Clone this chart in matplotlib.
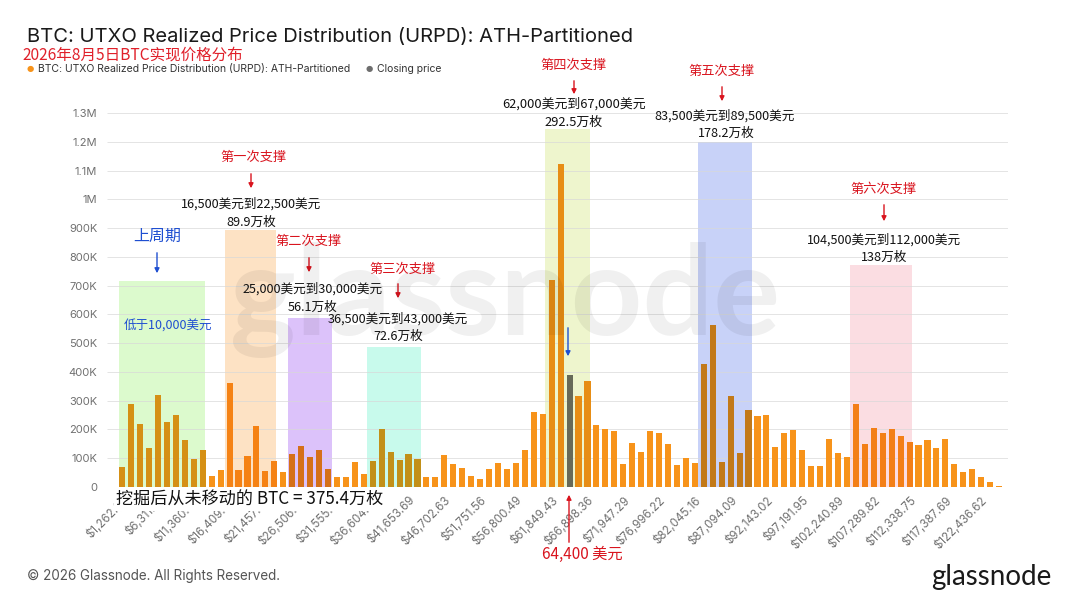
import matplotlib.pyplot as plt
from matplotlib.colors import to_rgb
import numpy as np

plt.rcParams['font.family'] = ['Inter', 'Noto Sans CJK SC', 'DejaVu Sans']
CJK = ['Noto Sans CJK SC', 'DejaVu Sans']

# URPD: BTC supply per price bin (each bin ~1,262.23 USD wide), in BTC
supply = np.array([
    71, 289, 219, 135, 320, 226, 252, 164, 98, 128,
    38, 58, 363, 59, 108, 212, 56, 91, 53, 116,
    144, 103, 128, 63, 34, 36, 88, 46, 92, 201,
    121, 93, 114, 98, 36, 36, 111, 79, 66, 38,
    27, 64, 83, 64, 83, 130, 262, 254, 721, 1122,
    389, 318, 367, 217, 203, 196, 81, 152, 123, 196,
    188, 150, 77, 100, 85, 427, 562, 86, 315, 118,
    266, 247, 252, 140, 188, 197, 128, 73, 73, 167,
    118, 106, 288, 149, 206, 186, 200, 179, 157, 146,
    165, 135, 166, 80, 52, 62, 36, 17, 3,
]) * 1000
bins = np.arange(1, len(supply) + 1)
closing_bin = 51

tick_bins = list(range(1, 98, 4))
tick_labels = [
    '$1,262.23', '$6,311.16', '$11,360.09', '$16,409.03', '$21,457.96',
    '$26,506.89', '$31,555.82', '$36,604.76', '$41,653.69', '$46,702.63',
    '$51,751.56', '$56,800.49', '$61,849.43', '$66,898.36', '$71,947.29',
    '$76,996.22', '$82,045.16', '$87,094.09', '$92,143.02', '$97,191.95',
    '$102,240.89', '$107,289.82', '$112,338.75', '$117,387.69', '$122,436.62',
]
y_ticks = [0, 1e5, 2e5, 3e5, 4e5, 5e5, 6e5, 7e5, 8e5, 9e5, 1e6, 1.1e6, 1.2e6, 1.3e6]
y_labels = ['0', '100K', '200K', '300K', '400K', '500K', '600K', '700K',
            '800K', '900K', '1M', '1.1M', '1.2M', '1.3M']

# highlighted zones (bin range, box height, colour)
zone_lo = [0.6, 12.5, 19.5, 28.4, 48.3, 65.4, 82.3]
zone_hi = [10.3, 18.2, 24.4, 34.4, 53.3, 71.4, 89.3]
zone_top = [715e3, 892e3, 588e3, 485e3, 1244e3, 1199e3, 773e3]
zone_col = ['#dcfacd', '#fde2c4', '#dcc2fa', '#c8faec', '#eef5cd', '#c8d2f8', '#fbdde2']

ORANGE = '#f7931a'
GREY = '#6e6e6e'


def multiply(c1, c2):
    return tuple(a * b for a, b in zip(to_rgb(c1), to_rgb(c2)))


def px(x, y):
    return x / 1080, 1 - y / 608


fig = plt.figure(figsize=(10.8, 6.08), dpi=100)
ax = fig.add_axes([107 / 1080, 1 - 487 / 608, 901 / 1080, 374 / 608])

colors = []
for b in bins:
    c = GREY if b == closing_bin else ORANGE
    for lo, hi, zc in zip(zone_lo, zone_hi, zone_col):
        if lo < b < hi:
            c = multiply(c, zc)
    colors.append(c)

for lo, hi, top, zc in zip(zone_lo, zone_hi, zone_top, zone_col):
    ax.fill_between([lo, hi], 0, top, color=zc, lw=0, zorder=0.5)

ax.hlines(y_ticks, 0, 1, transform=ax.get_yaxis_transform(),
          color='#d8d8d8', lw=0.7, alpha=0.7, zorder=1)
ax.bar(bins, supply, width=0.68, color=colors, zorder=2)

ax.set_xlim(-0.7, 100)
ax.set_ylim(0, 1.3e6)
ax.set_yticks(y_ticks)
ax.set_yticklabels(y_labels, fontsize=8, color='#707070')
ax.set_xticks(tick_bins)
ax.set_xticklabels(tick_labels, rotation=45, ha='right', rotation_mode='anchor',
                   fontsize=8.3, color='#707070')
ax.tick_params(length=0, pad=7)
ax.tick_params(axis='x', pad=5)
for s in ax.spines.values():
    s.set_visible(False)

# watermark
fig.text(*px(505, 300), 'glassnode', fontsize=90, color='#000000', alpha=0.06,
         ha='center', va='center', fontweight='bold', family='Lato')

# title and legend
fig.text(*px(27, 37), 'BTC: UTXO Realized Price Distribution (URPD): ATH-Partitioned',
         fontsize=14.5, color='#1a1a1a', va='center')
fig.text(*px(22, 55), '2026年8月5日BTC实现价格分布', fontsize=11.2, color='#e0202a',
         va='center', family=CJK)
fig.text(*px(27, 69), '●', fontsize=6, color=ORANGE, va='center', family='DejaVu Sans')
fig.text(*px(38, 69), 'BTC: UTXO Realized Price Distribution (URPD): ATH-Partitioned',
         fontsize=7.5, color='#333333', va='center')
fig.text(*px(366, 69), '●', fontsize=6, color=GREY, va='center', family='DejaVu Sans')
fig.text(*px(377, 69), 'Closing price', fontsize=7.5, color='#333333', va='center')

fig.text(*px(27, 576), '© 2026 Glassnode. All Rights Reserved.', fontsize=9.7,
         color='#555555', va='center')
fig.text(*px(1051, 577), 'glassnode', fontsize=20, color='#1a1a1a', va='center',
         ha='right', family='Lato')

RED = '#d9141e'
BLUE = '#1f4fd1'


def arrow(x, y0, y1, color):
    ax.annotate('', xy=px(x, y1), xytext=px(x, y0), xycoords='figure fraction',
                textcoords='figure fraction',
                arrowprops=dict(arrowstyle='-|>', color=color, lw=1, mutation_scale=7))


def note(x, y, s, color='#111111', size=9.1):
    fig.text(*px(x, y), s, fontsize=size, color=color, ha='center', va='center',
             family=CJK)


note(157, 236, '上周期', BLUE, 11.5)
arrow(157, 250, 276, BLUE)
note(168, 326, '低于10,000美元', BLUE, 9)

note(254, 157, '第一次支撑', RED, 9.5)
arrow(251, 171, 191, RED)
note(251, 204, '16,500美元到22,500美元')
note(251, 222, '89.9万枚')

note(309, 241, '第二次支撑', RED, 9.5)
arrow(309, 255, 275, RED)
note(313, 289, '25,000美元到30,000美元')
note(313, 307, '56.1万枚')

note(403, 269, '第三次支撑', RED, 9.5)
arrow(398, 281, 301, RED)
note(398, 319, '36,500美元到43,000美元')
note(398, 336, '72.6万枚')

note(574, 65, '第四次支撑', RED, 9.5)
arrow(574, 78, 97, RED)
note(574, 104, '62,000美元到67,000美元', size=9.3)
note(574, 122, '292.5万枚', size=9.3)

note(722, 71, '第五次支撑', RED, 9.5)
arrow(722, 84, 104, RED)
note(725, 116, '83,500美元到89,500美元')
note(726, 133, '178.2万枚')

note(884, 189, '第六次支撑', RED, 9.5)
arrow(884, 202, 224, RED)
note(884, 240, '104,500美元到112,000美元')
note(884, 257, '138万枚')

arrow(568, 325, 359, BLUE)
arrow(569, 545, 492, RED)
note(582, 554, '64,400 美元', RED, 11)

fig.text(*px(116, 500), '挖掘后从未移动的 BTC = 375.4万枚', fontsize=12.3, color='#111111',
         va='center', family=CJK,
         bbox=dict(boxstyle='square,pad=0.1', fc='white', ec='none'))

fig.savefig('out.png', dpi=100, facecolor='white')
